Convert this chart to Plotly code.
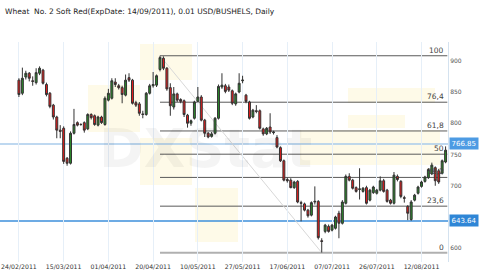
import plotly.graph_objects as go

# ---- data ----
tick_idx = [0, 13, 26, 39, 52, 65, 78, 91, 104, 117]
tick_labels = ["24/02/2011", "15/03/2011", "01/04/2011", "20/04/2011", "10/05/2011",
               "27/05/2011", "17/06/2011", "07/07/2011", "26/07/2011", "12/08/2011"]

open_ = [869, 848, 874, 880, 868, 865, 880, 885, 862, 848,
         829, 810, 789, 792, 744, 736, 784, 801, 798, 801,
         791, 814, 812, 797, 810, 798, 837, 840, 866, 860,
         857, 845, 873, 869, 833, 831, 815, 814, 848, 860,
         861, 886, 904, 888, 857, 826, 847, 838, 836, 813,
         800, 808, 835, 842, 805, 784, 779, 784, 808, 858,
         860, 858, 852, 831, 850, 868, 845, 834, 810, 820,
         820, 791, 783, 794, 785, 777, 761, 740, 710, 709,
         697, 707, 673, 671, 661, 653, 674, 675, 612, 627,
         635, 629, 632, 656, 640, 672, 715, 709, 697, 694,
         691, 697, 677, 689, 688, 693, 708, 693, 677, 672,
         715, 707, 681, 667, 646, 677, 688, 699, 707, 713,
         719, 729, 724, 720, 738]
high = [872, 889, 884, 882, 875, 888, 891, 887, 865, 850,
        831, 812, 797, 795, 746, 787, 823, 803, 800, 803,
        816, 816, 814, 812, 812, 843, 855, 872, 872, 863,
        860, 878, 880, 871, 836, 834, 820, 850, 863, 882,
        878, 908, 907, 890, 864, 858, 849, 840, 838, 815,
        806, 836, 858, 845, 807, 786, 786, 810, 862, 880,
        863, 862, 854, 849, 880, 876, 847, 836, 823, 829,
        822, 793, 794, 816, 788, 781, 763, 742, 714, 712,
        708, 709, 676, 673, 663, 675, 699, 677, 616, 639,
        638, 639, 652, 660, 677, 718, 720, 711, 699, 728,
        698, 700, 695, 700, 695, 715, 711, 695, 679, 722,
        718, 709, 684, 669, 677, 687, 700, 708, 716, 728,
        737, 731, 727, 742, 763]
low = [842, 845, 870, 867, 860, 862, 877, 862, 843, 824,
       806, 776, 776, 735, 732, 734, 782, 795, 796, 785,
       789, 806, 796, 795, 799, 796, 835, 838, 858, 854,
       832, 843, 866, 830, 826, 812, 808, 812, 846, 857,
       858, 883, 885, 852, 812, 822, 834, 832, 810, 793,
       796, 806, 833, 803, 778, 776, 777, 782, 806, 855,
       848, 850, 829, 828, 848, 864, 832, 806, 808, 816,
       790, 780, 781, 783, 782, 760, 738, 707, 705, 696,
       695, 672, 643, 659, 649, 651, 670, 614, 593, 624,
       625, 627, 630, 616, 638, 670, 707, 694, 689, 678,
       689, 670, 675, 687, 686, 691, 689, 673, 670, 670,
       707, 680, 673, 645, 644, 675, 686, 697, 705, 711,
       717, 700, 703, 718, 736]
close = [846, 872, 880, 872, 867, 881, 888, 864, 846, 827,
         810, 789, 787, 739, 736, 784, 798, 797, 798, 789,
         814, 809, 798, 810, 801, 840, 848, 868, 862, 857,
         846, 869, 869, 832, 829, 816, 814, 848, 860, 862,
         876, 905, 888, 855, 828, 847, 837, 835, 814, 800,
         804, 834, 842, 805, 784, 778, 783, 808, 859, 861,
         851, 853, 832, 847, 864, 869, 835, 808, 821, 819,
         792, 783, 792, 786, 786, 762, 740, 709, 708, 697,
         706, 674, 672, 661, 652, 673, 675, 617, 611, 637,
         627, 637, 650, 640, 674, 715, 709, 696, 691, 695,
         696, 672, 693, 698, 693, 708, 691, 675, 672, 717,
         710, 683, 680, 656, 674, 685, 698, 706, 714, 726,
         733, 708, 706, 740, 757]

fib_levels = [100, 76.4, 61.8, 50, 38.2, 23.6, 0]
fib_labels = ["100", "76,4", "61,8", "50", "38,2", "23,6", "0"]
price_lines = [766.85, 643.64]
price_line_colors = ["#a9cbeb", "#3d8fdb"]
price_tag_colors = ["#4d9be3", "#2f86d6"]
# 650 is hidden behind the 643.64 price tag in the reference
y_ticks = [600, 700, 750, 800, 850, 900]

title_text = "Wheat  No. 2 Soft Red(ExpDate: 14/09/2011), 0.01 USD/BUSHELS, Daily"

x = list(range(len(open_)))
hi_idx = max(range(len(high)), key=lambda i: high[i])
lo_idx = min(range(len(low)), key=lambda i: low[i])
fib_hi = high[hi_idx]
fib_lo = low[lo_idx]

FONT = "DejaVu Sans"

fig = go.Figure()
fig.add_trace(go.Candlestick(
    x=x, open=open_, high=high, low=low, close=close,
    increasing=dict(fillcolor="#2b8a2b", line=dict(color="#333333", width=1)),
    decreasing=dict(fillcolor="#ec1b1b", line=dict(color="#333333", width=1)),
    whiskerwidth=0, showlegend=False, hoverinfo="skip",
))

shapes = []
# watermark blocks (DXStat logo, faint)
wm = [(88, 140, 85, 132), (140, 192, 44, 80), (140, 192, 138, 185), (195, 238, 188, 242),
      (300, 440, 130, 165), (348, 435, 88, 103), (348, 405, 115, 128)]
for (x0, x1, y0, y1) in wm:
    shapes.append(dict(type="rect", xref="paper", yref="paper",
                       x0=x0 / 448, x1=x1 / 448, y0=(262 - y1) / 220, y1=(262 - y0) / 220,
                       fillcolor="rgba(252,240,190,0.35)", line=dict(width=0), layer="below"))

# price lines
for p, c in zip(price_lines, price_line_colors):
    shapes.append(dict(type="line", xref="paper", yref="y", x0=0, x1=1, y0=p, y1=p,
                       line=dict(color=c, width=1.5), layer="below"))

# fibonacci levels
for lv in fib_levels:
    yv = fib_lo + lv / 100 * (fib_hi - fib_lo)
    shapes.append(dict(type="line", xref="x", yref="y", x0=hi_idx, x1=124.5, y0=yv, y1=yv,
                       line=dict(color="#b0b0b0" if lv == 0 else "#5a5a5a",
                                 width=2 if lv == 0 else 1), layer="below"))
# trend line
shapes.append(dict(type="line", xref="x", yref="y", x0=hi_idx, x1=lo_idx, y0=fib_hi, y1=fib_lo,
                   line=dict(color="#d8d8d8", width=1), layer="below"))

annotations = []
annotations.append(dict(text="<b>DXStat</b>", xref="paper", yref="paper", x=205 / 448,
                        y=(262 - 115) / 220, showarrow=False,
                        font=dict(family=FONT, size=54, color="rgba(0,0,0,0.045)")))
for lv, lab in zip(fib_levels, fib_labels):
    yv = fib_lo + lv / 100 * (fib_hi - fib_lo)
    annotations.append(dict(text=lab, xref="paper", yref="y", x=446 / 448, y=yv,
                            xanchor="right", yanchor="bottom", showarrow=False, yshift=-1,
                            font=dict(family=FONT, size=7.5, color="#444444")))
for p, c in zip(price_lines, price_tag_colors):
    annotations.append(dict(text=f"{p:.2f}", xref="paper", yref="y", x=449 / 448, y=p,
                            xanchor="left", yanchor="middle", showarrow=False,
                            bgcolor=c, borderpad=1.5,
                            font=dict(family=FONT, size=7, color="white")))
annotations.append(dict(text=title_text, xref="paper", yref="paper", x=3 / 448,
                        y=(262 - 12) / 220, xanchor="left", yanchor="middle", showarrow=False,
                        font=dict(family=FONT, size=7.5, color="#222222")))

fig.update_layout(
    width=500, height=279,
    margin=dict(l=0, r=52, t=42, b=17),
    paper_bgcolor="white", plot_bgcolor="white",
    shapes=shapes, annotations=annotations,
    boxgap=0.2,
    xaxis=dict(range=[-5.5, 124.7], tickmode="array", tickvals=tick_idx, ticktext=tick_labels,
               showgrid=True, gridcolor="#e6eff8", gridwidth=1, zeroline=False,
               showline=False, ticks="", rangeslider=dict(visible=False),
               tickfont=dict(family=FONT, size=6.2, color="#333333")),
    yaxis=dict(range=[578, 930], side="right", tickmode="array", tickvals=y_ticks,
               showgrid=False, zeroline=False, showline=True, linecolor="#d4e2ef",
               ticks="", tickfont=dict(family=FONT, size=6, color="#555555")),
    showlegend=False,
)

fig.write_html("out.html")
